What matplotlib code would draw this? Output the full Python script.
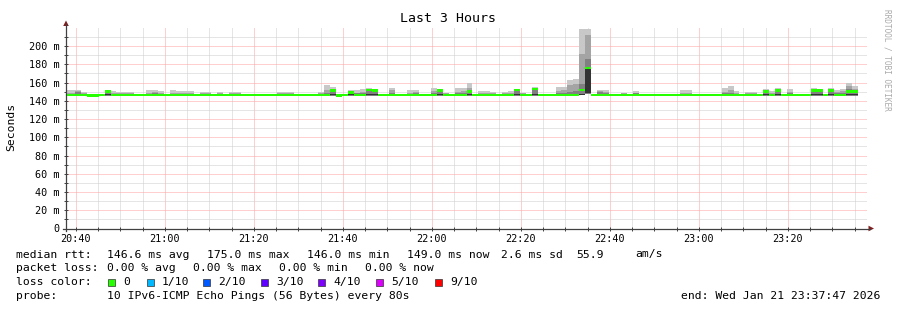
import numpy as np
import matplotlib
matplotlib.use("Agg")
import matplotlib.pyplot as plt
import matplotlib.dates as mdates
from matplotlib.lines import Line2D
from matplotlib.patches import Polygon, Rectangle
from datetime import datetime, timedelta

# ---------------- data ----------------
title = "Last 3 Hours"
y_label = "Seconds"
start = datetime(2026, 1, 21, 20, 37, 47)
end = start + timedelta(hours=3)
step_seconds = 80

ping_max = [152, 152, 152, 150, 147.5, 147.5, 147.5, 151, 151, 149.5,
            149.5, 150, 147.5, 147.5, 152, 152, 151, 147.5, 152, 151,
            151, 151, 147.5, 150, 150, 147.5, 150, 147.5, 150, 150,
            147.5, 147.5, 147.5, 147.5, 147.5, 147.5, 150, 150, 150, 147.5,
            147.5, 147.5, 147.5, 150, 157, 155, 147.5, 147.5, 152, 152,
            152.5, 154, 153, 147.5, 147.5, 154, 147.5, 147.5, 152, 152,
            147.5, 147.5, 154, 153, 149, 147.5, 154, 154, 159, 147.5,
            151, 151, 150, 147.5, 149.5, 150.5, 153, 149, 147.5, 155,
            147.5, 147.5, 147.5, 155, 155, 163, 164, 219, 219, 147.5,
            152, 152, 147.5, 147.5, 149, 147.5, 151, 147.5, 147.5, 147.5,
            147.5, 147.5, 147.5, 147.5, 152, 152, 147.5, 147.5, 147.5, 147.5,
            147.5, 154, 156, 151, 147.5, 150, 150, 147.5, 153, 151,
            154, 147.5, 153, 147.5, 147.5, 147.5, 154, 153, 147.5, 154,
            152, 153, 160, 156]

ping_q3 = [149, 149, 151, 148, 147.3, 147.3, 147.3, 150.5, 149, 148,
           148, 148.5, 147.3, 147.3, 149, 150, 149, 147.3, 149, 149,
           149, 148, 147.3, 148, 148, 147.3, 148, 147.3, 148, 148,
           147.3, 147.3, 147.3, 147.3, 147.3, 147.3, 148, 148, 148, 147.3,
           147.3, 147.3, 147.3, 148, 152, 153, 147.3, 147.3, 151, 149,
           150, 153, 152, 147.3, 147.3, 152, 147.3, 147.3, 149, 150,
           147.3, 147.3, 151, 152, 148, 147.3, 150, 151, 154, 147.3,
           149, 149, 148, 147.3, 148, 149, 152.5, 148, 147.3, 154,
           147.3, 147.3, 147.3, 151, 152, 157, 158, 191, 212, 147.3,
           151, 150, 147.3, 147.3, 148, 147.3, 149, 147.3, 147.3, 147.3,
           147.3, 147.3, 147.3, 147.3, 149, 149, 147.3, 147.3, 147.3, 147.3,
           147.3, 150, 152, 149, 147.3, 148, 148, 147.3, 152, 149,
           153, 147.3, 150, 147.3, 147.3, 147.3, 152, 152, 147.3, 152,
           150, 151, 156, 153]

ping_q2 = [147.5, 147.5, 149.5, 147.2, 147.1, 147.1, 147.1, 150, 147.5, 147.2,
           147.2, 147.2, 147.1, 147.1, 147.5, 148, 147.5, 147.1, 147.5, 147.5,
           147.5, 147.2, 147.1, 147.2, 147.2, 147.1, 147.2, 147.1, 147.2, 147.2,
           147.1, 147.1, 147.1, 147.1, 147.1, 147.1, 147.2, 147.2, 147.2, 147.1,
           147.1, 147.1, 147.1, 147.2, 149, 152, 147.1, 147.1, 150, 148,
           148, 152.5, 151.5, 147.1, 147.1, 149, 147.1, 147.1, 147.5, 148,
           147.1, 147.1, 148, 151.5, 147.2, 147.1, 148, 148, 151, 147.1,
           147.5, 147.5, 147.2, 147.1, 147.2, 147.5, 152, 147.2, 147.1, 153.5,
           147.1, 147.1, 147.1, 148, 149, 150, 151, 158, 186, 147.1,
           150, 148, 147.1, 147.1, 147.2, 147.1, 148, 147.1, 147.1, 147.1,
           147.1, 147.1, 147.1, 147.1, 147.5, 147.5, 147.1, 147.1, 147.1, 147.1,
           147.1, 148, 148, 147.5, 147.1, 147.2, 147.2, 147.1, 151, 147.5,
           152, 147.1, 148, 147.1, 147.1, 147.1, 151.5, 151.5, 147.1, 151.5,
           148, 149, 153, 152]

# darkest smoke band (lower / upper edge)
ping_dark_lo = [147, 147, 147, 147, 147, 147, 147, 146, 147, 147,
                147, 147, 147, 147, 147, 147, 147, 147, 147, 147,
                147, 147, 147, 147, 147, 147, 147, 147, 147, 147,
                147, 147, 147, 147, 147, 147, 147, 147, 147, 147,
                147, 147, 147, 147, 147, 146, 147, 147, 146, 147,
                147, 146, 146, 147, 147, 147, 147, 147, 147, 147,
                147, 147, 147, 146, 147, 147, 147, 147, 146, 147,
                147, 147, 147, 147, 147, 147, 146, 147, 147, 146,
                147, 147, 147, 147, 147, 147, 147, 146, 148, 147,
                147, 147, 147, 147, 147, 147, 147, 147, 147, 147,
                147, 147, 147, 147, 147, 147, 147, 147, 147, 147,
                147, 147, 147, 147, 147, 147, 147, 147, 146, 147,
                146, 147, 147, 147, 147, 147, 146, 146, 147, 146,
                147, 147, 146, 146]

ping_dark_hi = [147, 147, 147, 147, 147, 147, 147, 147.3, 147, 147,
                147, 147, 147, 147, 147, 147, 147, 147, 147, 147,
                147, 147, 147, 147, 147, 147, 147, 147, 147, 147,
                147, 147, 147, 147, 147, 147, 147, 147, 147, 147,
                147, 147, 147, 147, 147, 147.3, 147, 147, 147.3, 147,
                147, 147.3, 147.3, 147, 147, 147, 147, 147, 147, 147,
                147, 147, 147, 147.3, 147, 147, 147, 147, 147.3, 147,
                147, 147, 147, 147, 147, 147, 147.3, 147, 147, 147.3,
                147, 147, 147, 147, 147, 147, 147, 147.3, 175, 147,
                147, 147, 147, 147, 147, 147, 147, 147, 147, 147,
                147, 147, 147, 147, 147, 147, 147, 147, 147, 147,
                147, 147, 147, 147, 147, 147, 147, 147, 147.3, 147,
                147.3, 147, 147, 147, 147, 147, 147.3, 147.3, 147, 147.3,
                147, 147, 147.3, 147.3]

ping_min = [145.5, 145.5, 145.5, 145.5, 145.5, 145.5, 145.5, 145.5, 145.5, 145.5,
            145.5, 145.5, 145.5, 145.5, 145.5, 145.5, 145.5, 145.5, 145.5, 145.5,
            145.5, 145.5, 145.5, 145.5, 145.5, 145.5, 145.5, 145.5, 145.5, 145.5,
            145.5, 145.5, 145.5, 145.5, 145.5, 145.5, 145.5, 145.5, 145.5, 145.5,
            145.5, 145.5, 145.5, 145.5, 145.5, 145.5, 145.5, 145.5, 145.5, 145.5,
            145.5, 145.5, 145.5, 145.5, 145.5, 145.5, 145.5, 145.5, 145.5, 145.5,
            145.5, 145.5, 145.5, 145.5, 145.5, 145.5, 145.5, 145.5, 145.5, 145.5,
            145.5, 145.5, 145.5, 145.5, 145.5, 145.5, 145.5, 145.5, 145.5, 145.5,
            145.5, 145.5, 145.5, 145.5, 145.5, 145.5, 145.5, 146.0, 147.5, 145.5,
            145.5, 145.5, 145.5, 145.5, 145.5, 145.5, 145.5, 145.5, 145.5, 145.5,
            145.5, 145.5, 145.5, 145.5, 145.5, 145.5, 145.5, 145.5, 145.5, 145.5,
            145.5, 145.5, 145.5, 145.5, 145.5, 145.5, 145.5, 145.5, 145.5, 145.5,
            145.5, 145.5, 145.5, 145.5, 145.5, 145.5, 145.5, 145.5, 145.5, 145.5,
            145.5, 145.5, 145.5, 145.5]

median = [146.5, 146.5, 146.5, 146.5, 146.0, 146.0, 146.5, 150, 146.5, 146.5,
          146.5, 146.5, 146.5, 146.5, 146.5, 146.5, 146.5, 146.5, 146.5, 146.5,
          146.5, 146.5, 146.5, 146.5, 146.5, 146.5, 146.5, 146.5, 146.5, 146.5,
          146.5, 146.5, 146.5, 146.5, 146.5, 146.5, 146.5, 146.5, 146.5, 146.5,
          146.5, 146.5, 146.5, 146.5, 146.5, 151, 146.0, 146.5, 149, 146.5,
          146.5, 152, 151, 146.5, 146.5, 146.5, 146.5, 146.5, 146.5, 146.5,
          146.5, 146.5, 146.5, 151, 146.5, 146.5, 146.5, 146.5, 150, 146.5,
          146.5, 146.5, 146.5, 146.5, 146.5, 146.5, 152, 146.5, 146.5, 153,
          146.5, 146.5, 146.5, 146.5, 146.5, 146.5, 146.5, 152, 176, 146.5,
          146.5, 146.5, 146.5, 146.5, 146.5, 146.5, 146.5, 146.5, 146.5, 146.5,
          146.5, 146.5, 146.5, 146.5, 146.5, 146.5, 146.5, 146.5, 146.5, 146.5,
          146.5, 146.5, 146.5, 146.5, 146.5, 146.5, 146.5, 146.5, 150, 146.5,
          151, 146.5, 146.5, 146.5, 146.5, 146.5, 151, 151, 146.5, 151,
          146.5, 146.5, 150, 150]

loss_labels = ["0", "1/10", "2/10", "3/10", "4/10", "5/10", "9/10"]
loss_colors = ["#26ff00", "#00b8ff", "#0059ff", "#5e00ff", "#7e00ff", "#dd00ff", "#ff0000"]

rtt_stats = ["146.6 ms avg", "175.0 ms max", "146.0 ms min", "149.0 ms now", "2.6 ms sd", "55.9", "am/s"]
loss_stats = ["0.00 % avg", "0.00 % max", "0.00 % min", "0.00 % now"]
probe_text = "10 IPv6-ICMP Echo Pings (56 Bytes) every 80s"
end_text = "end: Wed Jan 21 23:37:47 2026"
watermark = "RRDTOOL / TOBI OETIKER"

# ---------------- figure ----------------
W, H = 897, 310
MONO = "DejaVu Sans Mono"
plt.rcParams["font.family"] = [MONO]

fig = plt.figure(figsize=(W / 100, H / 100), dpi=100, facecolor="white")

def fx(x):
    return x / W

def fy(y):
    return 1 - y / H

ax_l, ax_r, ax_t, ax_b = 66, 867, 27.8, 228.5
ax = fig.add_axes([fx(ax_l), fy(ax_b), (ax_r - ax_l) / W, (ax_b - ax_t) / H])
ax.set_facecolor("white")

n = len(median)
edges = [start + timedelta(seconds=step_seconds * k - step_seconds / 2) for k in range(n + 1)]

def st(a):
    a = np.asarray(a, dtype=float)
    return np.append(a, a[-1])

lo = st(ping_min)
for arr, col in [(ping_max, "#c8c8c8"), (ping_q3, "#a4a4a4"), (ping_q2, "#808080")]:
    ax.fill_between(edges, lo, st(arr), step="post", color=col, lw=0, zorder=2)
ax.fill_between(edges, st(ping_dark_lo), st(ping_dark_hi), step="post", color="#333333", lw=0, zorder=2)

med = st(median)
band = 1.4
ax.fill_between(edges, med - band, med + band, step="post", color=loss_colors[0], lw=0, zorder=3)

ax.set_xlim(start, end)
ax.set_ylim(0, 220)

ax.yaxis.set_major_locator(matplotlib.ticker.FixedLocator(list(range(0, 201, 20))))
ax.yaxis.set_minor_locator(matplotlib.ticker.FixedLocator(list(range(10, 220, 20))))
ax.yaxis.set_major_formatter(matplotlib.ticker.FuncFormatter(
    lambda v, p: "0" if v == 0 else f"{int(v)} m"))
ax.xaxis.set_major_locator(mdates.MinuteLocator(byminute=[0, 20, 40]))
ax.xaxis.set_minor_locator(mdates.MinuteLocator(byminute=list(range(0, 60, 5))))
ax.xaxis.set_major_formatter(mdates.DateFormatter("%H:%M"))

ax.set_axisbelow(True)
ax.grid(which="major", color="#ffa0a0", linestyle=(0, (1, 1)), linewidth=0.72)
ax.grid(which="minor", color="#cccccc", linestyle=(0, (1, 1)), linewidth=0.72)

ax.tick_params(which="both", direction="inout", length=3, width=0.7, color="#404040",
               labelsize=7.3, labelcolor="black")
ax.tick_params(axis="y", which="both", pad=3)
ax.tick_params(axis="x", which="both", pad=2.5)
for s in ax.spines.values():
    s.set_visible(False)

# axis lines with arrows
axis_col = "#404040"
arrow_col = "#7f1f1f"
fig.add_artist(Line2D([fx(ax_l), fx(ax_l)], [fy(ax_b + 2), fy(24)], color=axis_col, lw=0.9))
fig.add_artist(Line2D([fx(ax_l - 3), fx(870)], [fy(ax_b), fy(ax_b)], color=axis_col, lw=0.9))
fig.add_artist(Polygon([[fx(ax_l - 2.8), fy(26)], [fx(ax_l + 2.8), fy(26)], [fx(ax_l), fy(20.5)]],
                       closed=True, color=arrow_col, lw=0))
fig.add_artist(Polygon([[fx(868.5), fy(ax_b - 2.8)], [fx(868.5), fy(ax_b + 2.8)], [fx(874), fy(ax_b)]],
                       closed=True, color=arrow_col, lw=0))

# titles
fig.text(fx(448), fy(19), title, ha="center", va="center", fontsize=9.5, color="black")
fig.text(fx(11), fy(127), y_label, ha="center", va="center", rotation=90, fontsize=8.2, color="black")
fig.text(fx(887), fy(60), watermark, ha="center", va="center", rotation=270, fontsize=5.6, color="#aaaaaa")

# legend rows
fs = 8.2
r1, r2, r3, r4 = 254.5, 268.3, 282.3, 296
fig.text(fx(16), fy(r1), "median rtt:", ha="left", va="center", fontsize=fs)
for xp, s in zip([107, 207, 307, 407, 501, 576, 635], rtt_stats):
    fig.text(fx(xp), fy(r1), s, ha="left", va="center", fontsize=fs)

fig.text(fx(16), fy(r2), "packet loss:", ha="left", va="center", fontsize=fs)
for xp, s in zip([107, 193, 279, 365], loss_stats):
    fig.text(fx(xp), fy(r2), s, ha="left", va="center", fontsize=fs)

fig.text(fx(16), fy(r3), "loss color:", ha="left", va="center", fontsize=fs)
box_x = [108, 147, 203, 261, 318, 376, 435]
for bx, lab, col in zip(box_x, loss_labels, loss_colors):
    fig.add_artist(Rectangle((fx(bx), fy(r3 + 3.5)), 7 / W, 7 / H, facecolor=col,
                             edgecolor="#333333", lw=0.5))
    fig.text(fx(bx + 15), fy(r3), lab, ha="left", va="center", fontsize=fs)

fig.text(fx(16), fy(r4), "probe:", ha="left", va="center", fontsize=fs)
fig.text(fx(107), fy(r4), probe_text, ha="left", va="center", fontsize=fs)
fig.text(fx(880), fy(r4), end_text, ha="right", va="center", fontsize=fs)

fig.savefig("out.png", dpi=100, facecolor="white")
